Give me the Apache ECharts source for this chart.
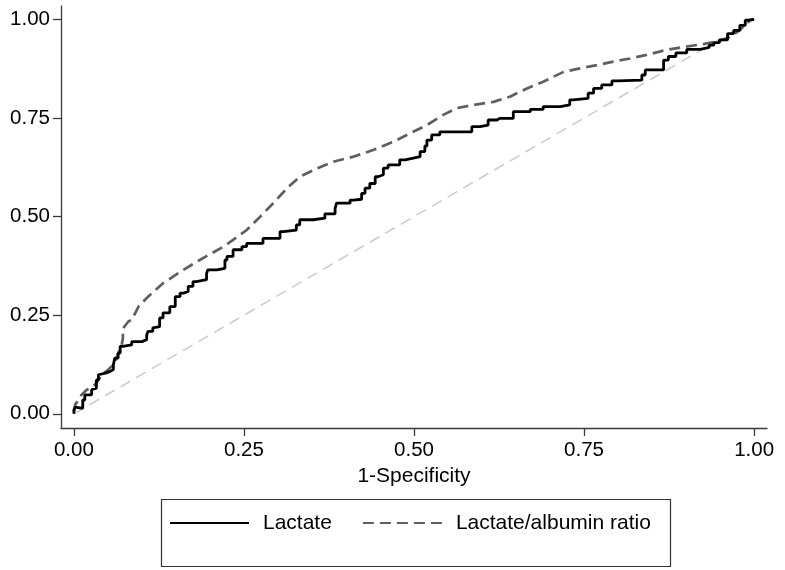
<!DOCTYPE html>
<html>
<head>
<meta charset="utf-8">
<script src="https://cdn.jsdelivr.net/npm/echarts@6/dist/echarts.min.js"></script>
<style>
  html, body { margin: 0; padding: 0; background: #fff; }
  .EC { width: 785px; height: 570px; }
</style>
</head>
<body>
<div class="EC"></div>
<script>
// ROC curve points (1-Specificity, Sensitivity)
const lactateX = [0, 0.002, 0.004, 0.013, 0.016, 0.019, 0.026, 0.028, 0.033, 0.036, 0.038, 0.046, 0.053, 0.058, 0.060, 0.065, 0.068, 0.072, 0.085, 0.100,
  0.107, 0.109, 0.116, 0.117, 0.126, 0.131, 0.141, 0.149, 0.156, 0.161, 0.168, 0.175, 0.180, 0.195, 0.197, 0.210, 0.222, 0.225, 0.234, 0.247,
  0.254, 0.278, 0.303, 0.308, 0.327, 0.332, 0.352, 0.369, 0.384, 0.386, 0.406, 0.411, 0.423, 0.428, 0.435, 0.443, 0.447, 0.455, 0.462, 0.479,
  0.487, 0.499, 0.509, 0.516, 0.519, 0.526, 0.538, 0.548, 0.585, 0.597, 0.609, 0.622, 0.626, 0.646, 0.671, 0.690, 0.715, 0.729, 0.734, 0.756,
  0.764, 0.776, 0.791, 0.800, 0.835, 0.840, 0.847, 0.867, 0.874, 0.885, 0.901, 0.921, 0.934, 0.941, 0.949, 0.961, 0.970, 0.979, 0.987, 0.992, 1]
const lactateY = [0, 0.010, 0.017, 0.014, 0.035, 0.048, 0.048, 0.061, 0.065, 0.086, 0.099, 0.103, 0.107, 0.112, 0.124, 0.141, 0.154, 0.171, 0.175, 0.183,
  0.188, 0.200, 0.209, 0.218, 0.221, 0.243, 0.256, 0.272, 0.297, 0.306, 0.310, 0.323, 0.335, 0.340, 0.356, 0.365, 0.369, 0.390, 0.399, 0.416,
  0.424, 0.432, 0.445, 0.462, 0.466, 0.479, 0.492, 0.496, 0.507, 0.521, 0.534, 0.542, 0.544, 0.559, 0.572, 0.584, 0.601, 0.606, 0.623, 0.631,
  0.644, 0.648, 0.652, 0.665, 0.679, 0.694, 0.707, 0.715, 0.715, 0.728, 0.732, 0.745, 0.749, 0.749, 0.766, 0.772, 0.779, 0.783, 0.796, 0.800,
  0.813, 0.825, 0.834, 0.844, 0.846, 0.859, 0.872, 0.872, 0.897, 0.906, 0.915, 0.924, 0.929, 0.935, 0.941, 0.948, 0.964, 0.972, 0.985, 0.998, 1]

const ratioX = [0, 0.002, 0.009, 0.011, 0.019, 0.024, 0.031, 0.036, 0.043, 0.050, 0.060, 0.065, 0.070, 0.072, 0.072, 0.080, 0.085, 0.095, 0.109, 0.131,
  0.161, 0.185, 0.220, 0.234, 0.254, 0.274, 0.293, 0.315, 0.332, 0.357, 0.381, 0.411, 0.440, 0.470, 0.494, 0.519, 0.543, 0.563, 0.587, 0.617,
  0.641, 0.666, 0.690, 0.720, 0.744, 0.769, 0.793, 0.818, 0.842, 0.869, 0.896, 0.927, 0.948, 0.965, 0.979, 0.994, 1]
const ratioY = [0.006, 0.024, 0.040, 0.048, 0.061, 0.065, 0.074, 0.086, 0.103, 0.111, 0.128, 0.154, 0.171, 0.192, 0.216, 0.234, 0.238, 0.272, 0.297, 0.331,
  0.365, 0.390, 0.424, 0.441, 0.466, 0.500, 0.534, 0.575, 0.601, 0.622, 0.639, 0.652, 0.669, 0.690, 0.711, 0.732, 0.758, 0.775, 0.783, 0.791,
  0.804, 0.825, 0.842, 0.867, 0.876, 0.884, 0.893, 0.901, 0.910, 0.922, 0.930, 0.938, 0.945, 0.956, 0.973, 0.998, 1]

const refX = [0, 1]
const refY = [0, 1]

const tickValues = [0, 0.25, 0.5, 0.75, 1]
const seriesNames = ['Lactate', 'Lactate/albumin ratio']
const xName = '1-Specificity'

const pairs = (xs, ys) => xs.map((x, i) => [x, ys[i]])

window.onload = () => {
    let EC = echarts.init(document.querySelector('.EC'))
    const font = "'Liberation Sans', Arial, sans-serif"

    // shared look of both axes (Stata-ish: no grid lines, ticks outside)
    const axisBase = {
        type: 'value',
        splitLine: { show: false },
        axisLine: { show: true, onZero: false, lineStyle: { color: '#3a3a3a', width: 1.3 } },
        axisTick: { show: true, inside: false, length: 8, customValues: tickValues, lineStyle: { color: '#3a3a3a', width: 1.3 } },
        axisLabel: {
            customValues: tickValues,
            color: '#000',
            fontFamily: font,
            fontSize: 20.5,
            formatter: v => v.toFixed(2)
        }
    }

    let option = {
        backgroundColor: '#fff',
        animation: false,
        grid: { left: 61, right: 18, top: 6, bottom: 142 },
        xAxis: Object.assign({}, axisBase, {
            min: -0.019,
            max: 1.019,
            name: xName,
            nameLocation: 'middle',
            nameGap: 34,
            nameTextStyle: { color: '#000', fontFamily: font, fontSize: 21 },
            axisLabel: Object.assign({}, axisBase.axisLabel, { margin: 12 })
        }),
        yAxis: Object.assign({}, axisBase, {
            min: -0.036,
            max: 1.034,
            axisLabel: Object.assign({}, axisBase.axisLabel, { margin: 11 })
        }),
        legend: {
            data: seriesNames,
            left: 169,
            top: 512,
            padding: 0,
            itemWidth: 79,
            itemHeight: 14,
            itemGap: 30,
            // hide the marker dot, keep only the line sample
            itemStyle: { opacity: 0 },
            textStyle: { color: '#000', fontFamily: font, fontSize: 21, lineHeight: 22, padding: [0, 0, 0, 9] }
        },
        // legend frame
        graphic: [{
            type: 'rect',
            left: 159,
            top: 497,
            shape: { width: 509, height: 67 },
            style: { fill: 'none', stroke: '#333', lineWidth: 1.2 },
            z: 0
        }],
        series: [{
            name: 'reference',
            type: 'line',
            data: pairs(refX, refY),
            showSymbol: false,
            silent: true,
            lineStyle: { color: '#cdcdcd', width: 1.6, type: [11, 7] },
            z: 1
        }, {
            name: seriesNames[1],
            type: 'line',
            data: pairs(ratioX, ratioY),
            showSymbol: false,
            lineStyle: { color: '#5f5f5f', width: 2.7, type: [11, 6] },
            itemStyle: { color: '#5f5f5f' },
            z: 2
        }, {
            name: seriesNames[0],
            type: 'line',
            data: pairs(lactateX, lactateY),
            step: 'start',
            showSymbol: false,
            lineStyle: { color: '#000', width: 2.8 },
            itemStyle: { color: '#000' },
            z: 3
        }]
    }
    EC.setOption(option)
}
</script>
</body>
</html>
